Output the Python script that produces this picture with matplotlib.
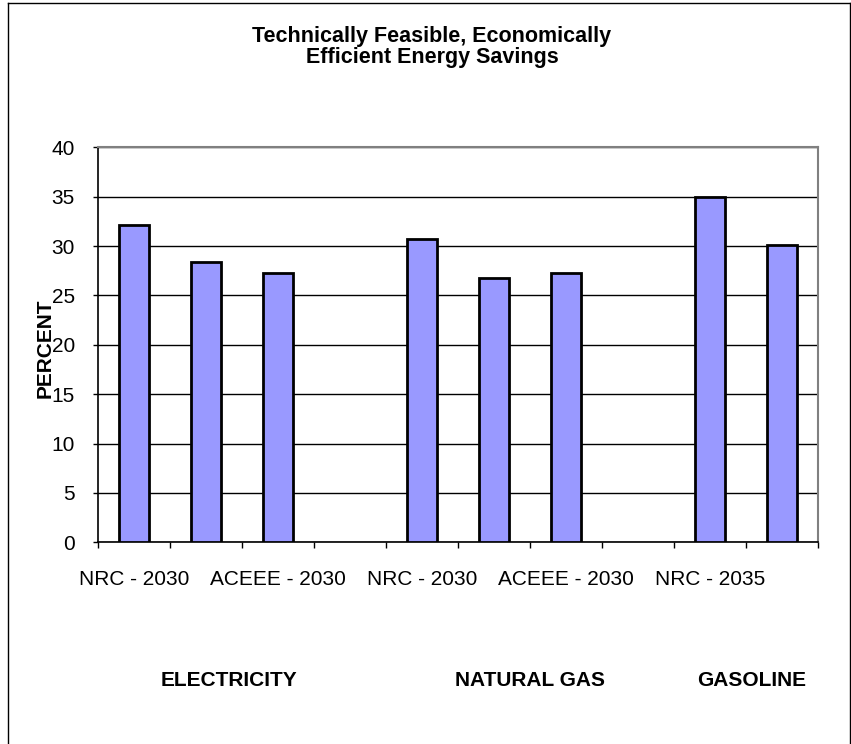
import numpy as np
import matplotlib
matplotlib.use("Agg")
import matplotlib.pyplot as plt
from matplotlib.lines import Line2D
from matplotlib.ticker import FixedLocator

# ---- data ----
categories = ["NRC - 2030", "", "ACEEE - 2030", "", "NRC - 2030", "", "ACEEE - 2030", "", "NRC - 2035", ""]
values = [32.1, 28.4, 27.3, np.nan, 30.7, 26.8, 27.3, np.nan, 35.0, 30.1]
groups = ["ELECTRICITY", "NATURAL GAS", "GASOLINE"]
group_label_x = [229, 530, 752]  # pixel centres of group captions
title = "Technically Feasible, Economically\nEfficient Energy Savings"
ylabel = "PERCENT"
yticks = [0, 5, 10, 15, 20, 25, 30, 35, 40]

plt.rcParams['font.family'] = ['Liberation Sans', 'DejaVu Sans']

W, H = 851, 744
fig = plt.figure(figsize=(W / 100, H / 100), dpi=100)
ax = fig.add_axes([98 / W, 1 - 542.3 / H, (818 - 98) / W, (542.3 - 147.3) / H])

x = np.arange(len(categories))
ax.bar(x, values, width=0.42, color="#9999FF", edgecolor="black", linewidth=2, zorder=3)

ax.set_xlim(-0.5, len(categories) - 0.5)
ax.set_ylim(0, 40)
ax.set_yticks(yticks)
ax.yaxis.grid(True, color="black", linewidth=1, zorder=1)
ax.tick_params(axis="y", direction="out", length=3.6, width=1, pad=13, labelsize=15)

labeled = [i for i, c in enumerate(categories) if c]
ax.set_xticks(labeled)
ax.set_xticklabels([categories[i] for i in labeled], fontsize=15)
ax.tick_params(axis="x", which="major", length=0, pad=20)
ax.xaxis.set_minor_locator(FixedLocator(np.arange(-0.5, len(categories), 1.0)))
ax.tick_params(axis="x", which="minor", direction="out", length=4.3, width=1)

for s in ["top", "right"]:
    ax.spines[s].set_color("#808080")
    ax.spines[s].set_linewidth(1.5)
for s in ["left", "bottom"]:
    ax.spines[s].set_color("black")
    ax.spines[s].set_linewidth(1.2)

fig.text(432 / W, 1 - 47 / H, title, ha="center", va="center", fontsize=15.5,
         fontweight="bold", linespacing=1.0)
fig.text(45 / W, 1 - 348 / H, ylabel, ha="center", va="center", rotation=90,
         fontsize=15, fontweight="bold")
for g, gx in zip(groups, group_label_x):
    fig.text(gx / W, 1 - 681 / H, g, ha="center", va="center", fontsize=15, fontweight="bold")

# outer chart frame (bottom edge lies outside the image)
fr = dict(color="black", linewidth=1, transform=fig.transFigure)
fig.add_artist(Line2D([7.5 / W, 7.5 / W], [0, 1 - 2.5 / H], **fr))
fig.add_artist(Line2D([7.5 / W, 849.5 / W], [1 - 2.5 / H, 1 - 2.5 / H], **fr))
fig.add_artist(Line2D([849.5 / W, 849.5 / W], [0, 1 - 2.5 / H], **fr))

fig.savefig("out.png", dpi=100)
